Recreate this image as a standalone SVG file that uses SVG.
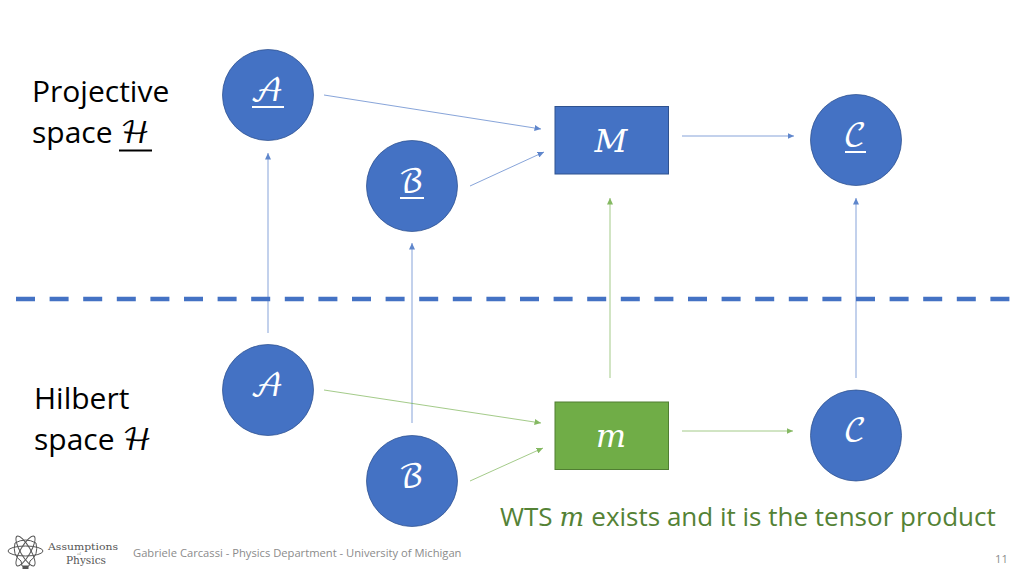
<svg xmlns="http://www.w3.org/2000/svg" width="1024" height="576" viewBox="0 0 1024 576">
<defs>
<marker id="ab" viewBox="0 0 10 10" refX="10" refY="5" markerWidth="6.500" markerHeight="6" markerUnits="userSpaceOnUse" orient="auto" preserveAspectRatio="none"><path d="M0 0L10 5L0 10z" fill="#4472c4"/></marker>
<marker id="ag" viewBox="0 0 10 10" refX="10" refY="5" markerWidth="6.500" markerHeight="6" markerUnits="userSpaceOnUse" orient="auto" preserveAspectRatio="none"><path d="M0 0L10 5L0 10z" fill="#70ad47"/></marker>
</defs>
<style>
text{font-family:"Open Sans","Liberation Sans",sans-serif}
.c{fill:#4472c4;stroke:#2f528f;stroke-width:.75}
.m{font-family:"DejaVu Math TeX Gyre","Liberation Serif","DejaVu Serif",serif;font-size:32px;fill:#fff;text-anchor:middle}
.x{font-family:"DejaVu Math TeX Gyre","Liberation Serif",serif}
.l{font-size:30px;fill:#000}
.b{fill:none;stroke:#4472c4;stroke-width:.75;opacity:.85;marker-end:url(#ab)}
.g{fill:none;stroke:#70ad47;stroke-width:.75;opacity:.85;marker-end:url(#ag)}
.f{font-size:11.200px;fill:#8b8b8b}
.lg{font-family:"DejaVu Serif","Liberation Serif",serif;fill:#555;text-anchor:middle}
</style>
<rect width="1024" height="576" fill="#fff"/>
<line x1="16" y1="299" x2="1010" y2="299" stroke="#4472c4" stroke-width="4.500" stroke-dasharray="19 14.600"/>
<g id="connectors">
<line class="b" x1="324" y1="95" x2="541" y2="129"/>
<line class="b" x1="470" y1="186" x2="544" y2="152"/>
<line class="b" x1="682" y1="136" x2="794" y2="136"/>
<line class="b" x1="268" y1="333" x2="268" y2="153"/>
<line class="b" x1="412" y1="423" x2="412" y2="243"/>
<line class="g" x1="610" y1="378" x2="610" y2="198"/>
<line class="b" x1="856" y1="378" x2="856" y2="198"/>
<line class="g" x1="324" y1="390" x2="541" y2="423"/>
<line class="g" x1="470" y1="481" x2="543" y2="448"/>
<line class="g" x1="682" y1="431" x2="793" y2="431"/>
</g>
<g id="node-A-top"><circle class="c" cx="268" cy="95" r="45.500"/><text class="m" x="267" y="101">𝒜</text><line x1="252" y1="107" x2="284" y2="107" stroke="#fff" stroke-width="2"/></g>
<g id="node-B-top"><circle class="c" cx="412" cy="186" r="45.500"/><text class="m" x="411" y="192">ℬ</text><line x1="400" y1="198" x2="424" y2="198" stroke="#fff" stroke-width="2"/></g>
<g id="node-M"><rect x="555" y="106.500" width="113.500" height="67.500" fill="#4472c4" stroke="#2f528f"/><text class="m" x="611" y="152">𝑀</text></g>
<g id="node-C-top"><circle class="c" cx="856" cy="140" r="45.500"/><text class="m" x="855" y="146">𝒞</text><line x1="845" y1="152" x2="866" y2="152" stroke="#fff" stroke-width="2"/></g>
<g id="node-A-bottom"><circle class="c" cx="268" cy="390" r="45.500"/><text class="m" x="267" y="396">𝒜</text></g>
<g id="node-B-bottom"><circle class="c" cx="412" cy="481" r="45.500"/><text class="m" x="411" y="487">ℬ</text></g>
<g id="node-m"><rect x="555" y="402" width="113.500" height="67.500" fill="#70ad47" stroke="#507e32"/><text class="m" x="611" y="447">𝑚</text></g>
<g id="node-C-bottom"><circle class="c" cx="856" cy="435.500" r="45.500"/><text class="m" x="855" y="441">𝒞</text></g>
<text class="l" x="32" y="102">Projective</text>
<text class="l" x="32" y="143">space <tspan class="x">ℋ</tspan></text>
<line x1="119" y1="150.500" x2="152" y2="150.500" stroke="#000" stroke-width="2"/>
<text class="l" x="34" y="409">Hilbert</text>
<text class="l" x="34" y="450">space <tspan class="x">ℋ</tspan></text>
<text x="500" y="526" font-size="26" fill="#548235">WTS <tspan class="x">𝑚</tspan> exists and it is the tensor product</text>
<g id="logo" fill="none" stroke="#555" stroke-width="1">
<ellipse cx="25.500" cy="551" rx="17.500" ry="5" />
<ellipse cx="25.500" cy="551" rx="17" ry="5" transform="rotate(60 25.500 551)"/>
<ellipse cx="25.500" cy="551" rx="17" ry="5" transform="rotate(-60 25.500 551)"/>
<path d="M15 543Q25.500 537 36 543Q39 555 30 561L29 566H22L21 561Q12 555 15 543Z"/>
<rect x="22.500" y="566" width="6" height="3" fill="#555" stroke="none"/>
</g>
<text class="lg" x="83" y="550" font-size="10" textLength="70" lengthAdjust="spacingAndGlyphs">Assumptions</text>
<text class="lg" x="79" y="555" font-size="3.500">of</text>
<text class="lg" x="86" y="564" font-size="10.500" textLength="40" lengthAdjust="spacingAndGlyphs">Physics</text>
<text class="f" x="133" y="557">Gabriele Carcassi - Physics Department - University of Michigan</text>
<text class="f" x="995" y="563">11</text>
</svg>
